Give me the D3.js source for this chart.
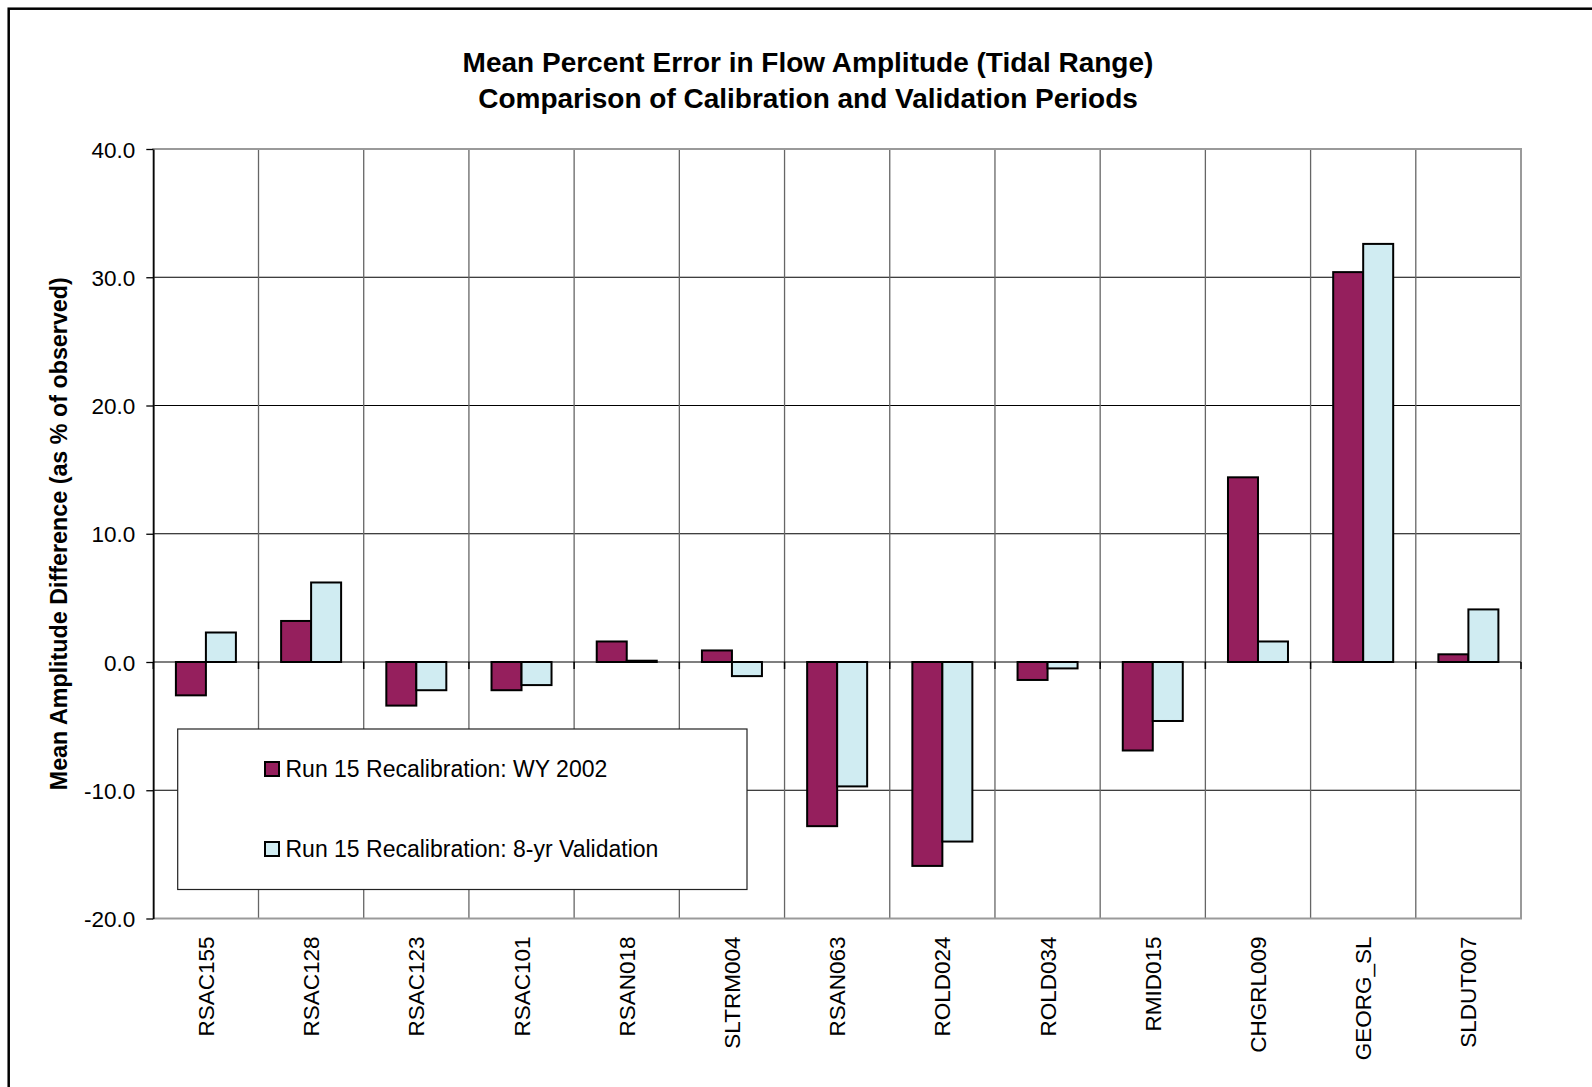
<!DOCTYPE html>
<html><head><meta charset="utf-8">
<script src="https://cdn.jsdelivr.net/npm/d3@7"></script>
<style>body{margin:0;background:#fff}svg{display:block}text{font-family:"Liberation Sans",Arial,sans-serif;fill:#000}</style>
</head><body><svg id="c" width="1592" height="1087"></svg>
<script>
const categories = ["RSAC155","RSAC128","RSAC123","RSAC101","RSAN018","SLTRM004","RSAN063","ROLD024","ROLD034","RMID015","CHGRL009","GEORG_SL","SLDUT007"];
const seriesNames = ["Run 15 Recalibration: WY 2002","Run 15 Recalibration: 8-yr Validation"];
const wy2002 = [-2.6,3.2,-3.4,-2.2,1.6,0.9,-12.8,-15.9,-1.4,-6.9,14.4,30.4,0.6];
const validation = [2.3,6.2,-2.2,-1.8,0.1,-1.1,-9.7,-14.0,-0.5,-4.6,1.6,32.6,4.1];
const yTicks = [40,30,20,10,0,-10,-20];
const titleLines = ["Mean Percent Error in Flow Amplitude (Tidal Range)","Comparison of Calibration and Validation Periods"];
const yAxisTitle = "Mean Amplitude Difference (as % of observed)";
const colors = ["#951F5D","#D0ECF2"];

const svg = d3.select("#c");
const L = 153.3, R = 1521, T = 149, B = 918.5;
const y = d3.scaleLinear().domain([-20,40]).range([B,T]);
const x0 = d3.scaleBand().domain(categories).range([L,R]).padding(0);
const pairW = 60;
const x1 = d3.scaleBand().domain(seriesNames).range([0,pairW]).padding(0);
const off = (x0.bandwidth()-pairW)/2;
const series = [wy2002, validation];

// outer chart border
svg.append("rect").attr("x",8.7).attr("y",8.7).attr("width",1700).attr("height",1200)
  .attr("fill","#fff").attr("stroke","#000").attr("stroke-width",2.5);

// title
svg.append("g").selectAll("text").data(titleLines).join("text")
  .attr("x",808).attr("y",(d,i)=>72+i*35.5).attr("text-anchor","middle")
  .attr("font-size",28).attr("font-weight","bold").text(d=>d);

// horizontal gridlines
svg.append("g").selectAll("line").data(yTicks.filter(v=>v!==0 && v!==40 && v!==-20)).join("line")
  .attr("x1",L).attr("x2",R).attr("y1",d=>y(d)).attr("y2",d=>y(d))
  .attr("stroke","#000").attr("stroke-width",1);
// vertical gridlines
svg.append("g").selectAll("line").data(categories.slice(1)).join("line")
  .attr("x1",d=>x0(d)).attr("x2",d=>x0(d)).attr("y1",T).attr("y2",B)
  .attr("stroke","#666").attr("stroke-width",1.3);
// plot border
svg.append("rect").attr("x",L).attr("y",T).attr("width",R-L).attr("height",B-T)
  .attr("fill","none").attr("stroke","#9a9a9a").attr("stroke-width",2);

// bars
const g = svg.append("g");
categories.forEach((c,ci)=>{
  series.forEach((s,si)=>{
    const v = s[ci];
    g.append("rect")
      .attr("x",x0(c)+off+x1(seriesNames[si]))
      .attr("y",y(Math.max(v,0)))
      .attr("width",x1.bandwidth())
      .attr("height",Math.abs(y(v)-y(0)))
      .attr("fill",colors[si]).attr("stroke","#000").attr("stroke-width",2);
  });
});

// zero (category) axis line with tick marks
svg.append("line").attr("x1",L).attr("x2",R).attr("y1",y(0)).attr("y2",y(0))
  .attr("stroke","#000").attr("stroke-width",1.2);
svg.append("g").selectAll("line").data(categories.concat(["__end"])).join("line")
  .attr("x1",(d,i)=>i<categories.length?x0(d):R).attr("x2",(d,i)=>i<categories.length?x0(d):R)
  .attr("y1",y(0)).attr("y2",y(0)+7).attr("stroke","#000").attr("stroke-width",1.5);

// y axis
const yAxis = d3.axisLeft(y).tickValues(yTicks).tickFormat(d=>d.toFixed(1))
  .tickSize(7).tickSizeOuter(0).tickPadding(11);
const ya = svg.append("g").attr("transform",`translate(${L},0)`).call(yAxis);
ya.select(".domain").attr("stroke","#000").attr("stroke-width",1.5);
ya.selectAll(".tick line").attr("stroke","#000").attr("stroke-width",1.3);
ya.selectAll(".tick text").attr("font-size",22.5).attr("font-family","Liberation Sans, Arial, sans-serif").attr("fill","#000").attr("dy","0.36em");

// y axis title
svg.append("text").attr("transform",`translate(66.5,${(T+B)/2}) rotate(-90)`)
  .attr("text-anchor","middle").attr("font-size",23.3).attr("font-weight","bold").text(yAxisTitle);

// x labels
svg.append("g").selectAll("text").data(categories).join("text")
  .attr("transform",d=>`translate(${x0(d)+x0.bandwidth()/2+8},936.5) rotate(-90)`)
  .attr("text-anchor","end").attr("font-size",22.5).text(d=>d);

// legend
const lg = svg.append("g");
lg.append("rect").attr("x",177.7).attr("y",729).attr("width",747-177.7).attr("height",889.5-729)
  .attr("fill","#fff").attr("stroke","#222").attr("stroke-width",1.2);
const legendY = [769, 849];
seriesNames.forEach((n,i)=>{
  lg.append("rect").attr("x",265).attr("y",legendY[i]-7).attr("width",14).attr("height",14)
    .attr("fill",colors[i]).attr("stroke","#000").attr("stroke-width",2);
  lg.append("text").attr("x",285.5).attr("y",legendY[i]+8.2).attr("font-size",23).text(n);
});
</script></body></html>
